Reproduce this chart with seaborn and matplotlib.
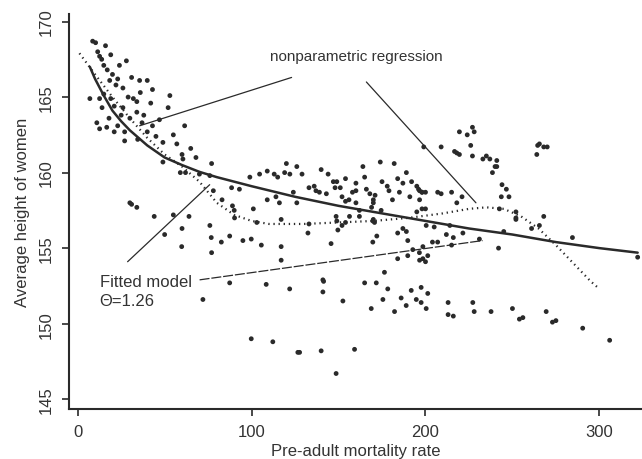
import matplotlib
matplotlib.use('Agg')
import matplotlib.pyplot as plt
import pandas as pd
import seaborn as sns

# scatter: pre-adult mortality rate vs average height of women
pts_x = [8.6, 10.3, 16, 11.5, 12.6, 13.8, 28, 15, 24, 20, 18.4, 23, 31, 35.6, 40, 43, 53, 26, 7, 12.6,
         15, 19, 34, 52, 21, 26, 11, 12.6, 16.7, 21, 23, 27, 34, 37, 40, 43, 45, 27, 34.5, 49,
         61.5, 60, 60.5, 49, 77, 70, 76, 59, 62, 30, 31, 34, 44, 55, 64, 76, 50, 60, 59.8, 77,
         17, 19, 22, 29, 32, 38, 30, 25, 18, 14, 36, 42, 47, 55, 65, 57, 68,
         88.5, 93, 99, 104.6, 109, 113, 115, 120, 126, 119, 122, 129, 133, 136, 144, 147, 149, 154, 148, 151,
         164, 174, 175, 182, 184, 189, 192, 195, 196, 198, 166, 168, 170, 171, 170, 169, 179, 181, 185, 191,
         195, 198, 200, 160, 152, 154, 156, 158, 160, 137, 139, 143, 124, 101, 109, 114, 116, 126, 133, 103,
         78, 83, 89, 90, 149, 152, 154, 162, 170, 172, 189, 140, 160, 178, 187, 165,
         219.5, 224, 227, 228, 209, 216.7, 218, 219.5, 227, 226, 233, 235, 237, 241, 240, 238.5, 241, 264, 264.5, 265.5,
         268, 270, 199, 244, 246.5, 248, 243.6, 196.6, 198, 200, 207, 209, 215, 221, 218, 196.6, 242.5, 252, 252, 268,
         261, 265.5, 284.5,
         200.4, 205, 214, 212, 216, 221.5, 252, 245, 242, 231, 215, 204, 207, 322, 198.5, 196.6, 200,
         197.5, 200.4, 213, 213, 216, 227.2, 228, 237.7, 250, 254, 256, 269.4, 273, 275, 290.4, 305.9,
         76.8, 82.6, 87.4, 95, 99.8, 90.2, 117, 132.4, 148.6, 156.3, 149.6, 162, 169.7, 170.7, 174.5, 187, 184, 105.6,
         117, 117, 145.7, 169.7, 189.8, 192.7, 196.5, 198.5, 201.3, 184, 189.8, 87.4, 108.4, 121.9, 141, 141.4, 141,
         152.5, 165, 171.7, 176.4, 178.3, 175.5, 168.8, 182.2, 186, 188.9, 191.8, 194.7, 197.5, 201.3, 99.8, 112.2,
         126.6, 127.6, 140, 159.2, 148.6, 72]
pts_y = [168.7, 168.6, 168.4, 168.0, 167.7, 167.5, 167.4, 167.1, 167.1, 166.5, 166.1, 166.2, 166.3, 166.1, 166.1, 165.5, 165.1, 165.6, 164.9, 164.9,
         165.2, 164.9, 164.7, 164.3, 164.4, 164.3, 163.3, 162.9, 163.0, 162.7, 163.1, 162.7, 164.0, 163.3, 162.7, 163.1, 162.4, 162.1, 162.2, 162.0,
         163.1, 161.2, 160.9, 160.7, 160.6, 159.9, 159.8, 160.0, 160.0, 158.0, 157.9, 157.7, 157.1, 157.2, 157.1, 156.5, 155.9, 156.3, 155.1, 154.7,
         166.8, 167.8, 165.8, 165.0, 164.9, 163.8, 163.6, 163.8, 163.6, 164.3, 165.3, 164.6, 163.5, 162.5, 161.6, 161.9, 161.0,
         159.0, 158.9, 159.7, 159.9, 160.1, 159.9, 159.7, 160.6, 160.4, 160.0, 159.9, 159.9, 159.0, 159.1, 159.9, 159.4, 159.4, 159.6, 159.0, 159.0,
         160.4, 160.7, 159.4, 160.6, 159.6, 160.0, 159.4, 159.1, 158.9, 158.7, 158.9, 158.6, 158.2, 158.5, 158.0, 157.7, 158.8, 158.2, 158.7, 158.4,
         157.4, 157.6, 157.6, 158.0, 158.4, 158.1, 158.2, 158.7, 158.8, 158.8, 158.7, 158.6, 158.7, 157.6, 158.2, 158.4, 158.0, 158.0, 156.6, 156.7,
         158.8, 158.2, 157.8, 157.5, 156.8, 156.5, 156.7, 157.1, 156.9, 155.8, 156.1, 160.2, 159.3, 159.1, 159.3, 159.7,
         162.7, 162.5, 163.0, 162.7, 161.7, 161.4, 161.3, 161.2, 161.1, 161.8, 160.9, 161.1, 160.9, 160.8, 160.4, 160.0, 160.4, 161.2, 161.8, 161.9,
         161.7, 161.7, 161.7, 159.2, 158.9, 158.4, 158.4, 158.8, 158.7, 158.7, 158.7, 158.6, 158.7, 158.4, 158.0, 158.2, 157.6, 157.4, 156.9, 157.1,
         156.3, 156.5, 155.7,
         156.5, 156.4, 156.5, 155.9, 155.7, 156.0, 157.0, 156.1, 155.0, 155.6, 155.2, 155.4, 155.4, 154.4, 154.3, 154.2, 154.1,
         151.4, 151.0, 151.4, 150.6, 150.5, 151.4, 150.8, 150.8, 151.0, 150.3, 150.4, 150.8, 150.1, 150.2, 149.7, 148.9,
         155.7, 155.4, 155.8, 155.5, 155.6, 157.0, 156.9, 156.0, 157.1, 157.1, 156.2, 157.5, 156.8, 156.7, 157.5, 156.3, 156.0, 155.2,
         155.1, 154.2, 155.3, 155.4, 155.5, 154.9, 154.7, 155.1, 154.5, 154.3, 154.5, 152.7, 152.6, 152.3, 152.9, 152.8, 152.1,
         151.5, 152.7, 152.7, 153.4, 152.3, 151.6, 151.0, 150.8, 151.7, 151.2, 152.2, 151.6, 152.4, 152.0, 149.0, 148.8,
         148.1, 148.1, 148.2, 148.3, 146.7, 151.6]

# fitted model (theta = 1.26)
fit_x = [7, 10, 15, 20, 25, 30, 40, 50, 60, 70, 80, 100, 125, 150, 175, 200, 225, 250, 275, 300, 322]
fit_y = [167.0, 166.2, 165.1, 164.1, 163.4, 162.8, 161.8, 161.0, 160.5, 160.05, 159.7, 159.1, 158.4, 157.8,
         157.3, 156.8, 156.3, 155.9, 155.4, 155.0, 154.7]

# nonparametric regression
np_x = [1, 10, 20, 30, 40, 50, 60, 70, 80, 90, 100, 110, 130, 150, 170, 190, 210, 225, 235, 245, 255,
        265, 275, 285, 295, 300]
np_y = [167.9, 166.5, 165.0, 163.6, 162.3, 161.2, 160.4, 159.4, 158.0, 157.2, 156.8, 156.6, 156.6, 156.7,
        156.8, 157.0, 157.3, 157.6, 157.7, 157.6, 157.1, 156.3, 155.2, 154.0, 152.8, 152.3]

x_ticks = [0, 100, 200, 300]
y_ticks = [145, 150, 155, 160, 165, 170]

sns.set_style('ticks')
plt.rcParams['font.family'] = ['Liberation Sans', 'DejaVu Sans']
ink = '#2a2a2a'
txt = '#333333'

fig = plt.figure(figsize=(6.42, 4.6), dpi=100)
ax = fig.add_axes([69 / 642, 50 / 460, 573 / 642, 395 / 460])

pts = pd.DataFrame({'x': pts_x, 'y': pts_y})
sns.scatterplot(data=pts, x='x', y='y', s=12, color=ink, edgecolor='none', ax=ax)
sns.lineplot(x=fit_x, y=fit_y, color=ink, lw=1.8, sort=False, estimator=None, ax=ax)
sns.lineplot(x=np_x, y=np_y, color=ink, lw=1.6, sort=False, estimator=None, ax=ax,
             linestyle=(0, (0.6, 1.7)))

# leader lines for the labels
lead = dict(color=ink, lw=0.9)
ax.plot([123, 35.6], [166.3, 163.1], **lead)
ax.plot([166, 229], [166.0, 158.0], **lead)
ax.plot([28.7, 75.9], [154.1, 159.2], **lead)
ax.plot([70.1, 232.8], [152.9, 155.5], color=ink, lw=0.9, linestyle=(0, (8, 1.5)))

ax.text(160, 167.7, 'nonparametric regression', fontsize=11, color=txt, ha='center', va='center')
ax.text(12.6, 152.8, 'Fitted model', fontsize=12, color=txt, ha='left', va='center')
ax.text(12.6, 151.5, 'Θ=1.26', fontsize=12, color=txt, ha='left', va='center')

ax.set_xlim(-5, 324.5)
ax.set_ylim(144.35, 170.5)
ax.set_xticks(x_ticks)
ax.set_yticks(y_ticks)
ax.tick_params(axis='both', length=5, width=1.2, color=ink, labelsize=12, labelcolor=txt, pad=6)
ax.tick_params(axis='y', labelrotation=90)
for lab in ax.get_yticklabels():
    lab.set_va('center')
ax.set_xlabel('Pre-adult mortality rate', fontsize=12, color=txt, labelpad=2.5)
ax.set_ylabel('Average height of women', fontsize=12, color=txt, labelpad=6)
for side in ['left', 'bottom']:
    ax.spines[side].set_linewidth(1.5)
    ax.spines[side].set_color(ink)
sns.despine(ax=ax)

fig.savefig('out.png', dpi=100)
